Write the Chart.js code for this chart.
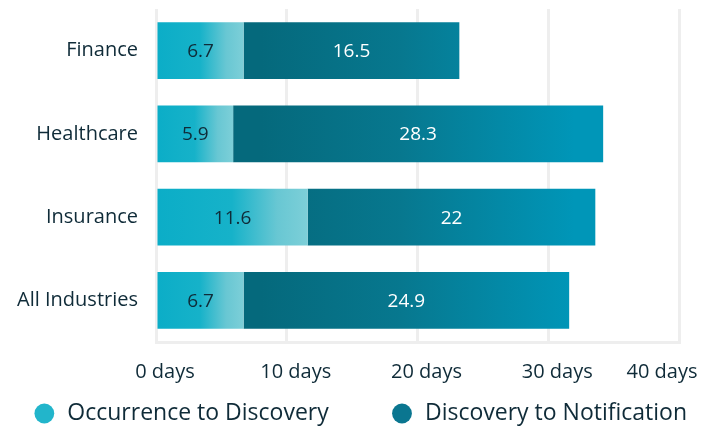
<!DOCTYPE html>
<html>
<head>
<meta charset="utf-8">
<script src="https://cdn.jsdelivr.net/npm/chart.js@4.4.1/dist/chart.umd.min.js"></script>
<style>
    html, body { margin: 0; padding: 0; background: #ffffff; }
    #wrap { width: 701px; height: 426px; position: relative; overflow: hidden; }
</style>
</head>
<body>
<div id="wrap"><canvas id="daysChart"></canvas></div>
<script>
// ---------- DATA ----------
const industries = ["Finance", "Healthcare", "Insurance", "All Industries"];
const occurrenceToDiscovery = [6.7, 5.9, 11.6, 6.7];
const discoveryToNotification = [16.5, 28.3, 22, 24.9];
const dayTicks = [0, 10, 20, 30, 40];
const seriesNames = ["Occurrence to Discovery", "Discovery to Notification"];

const inkColor = "#0f2b38";
const gridColor = "#eeeeee";
const fontFamily = "'Open Sans', 'Noto Sans', sans-serif";

// light teal fade inside each first segment
function firstSegmentFill(ctx) {
    if (ctx.type !== "data") return "#12afc7";
    const chart = ctx.chart;
    if (!chart.chartArea) return "#12afc7";
    const x = chart.scales.x;
    const x0 = x.getPixelForValue(0);
    const x1 = x.getPixelForValue(ctx.raw);
    const g = chart.ctx.createLinearGradient(x0, 0, x1, 0);
    g.addColorStop(0, "#0badc7");
    g.addColorStop(0.5, "#16b2c9");
    g.addColorStop(0.8, "#68c7d3");
    g.addColorStop(1, "#7dcfd8");
    return g;
}

// dark to bright teal across the whole axis
function secondSegmentFill(ctx) {
    const chart = ctx.chart;
    if (!chart.chartArea) return "#0a7d96";
    const x = chart.scales.x;
    const g = chart.ctx.createLinearGradient(x.getPixelForValue(8), 0, x.getPixelForValue(32), 0);
    g.addColorStop(0, "#05697c");
    g.addColorStop(0.45, "#07788f");
    g.addColorStop(1, "#0096b8");
    return g;
}

// ---------- VALUE LABELS ----------
const segmentLabels = {
    id: "segmentLabels",
    afterDatasetsDraw(chart) {
        const c = chart.ctx;
        c.save();
        c.font = "19px " + fontFamily;
        c.textAlign = "center";
        c.textBaseline = "middle";
        chart.data.datasets.forEach((ds, di) => {
            const meta = chart.getDatasetMeta(di);
            c.fillStyle = di === 0 ? inkColor : "#ffffff";
            meta.data.forEach((bar, i) => {
                const cx = (bar.x + bar.base) / 2;
                c.fillText(String(ds.data[i]), cx, bar.y + 1);
            });
        });
        c.restore();
    }
};

const legendColors = ["#22b5cb", "#0a7690"];

new Chart(document.getElementById("daysChart").getContext("2d"), {
    type: "bar",
    data: {
        labels: industries,
        datasets: [
            {
                label: seriesNames[0],
                data: occurrenceToDiscovery,
                backgroundColor: firstSegmentFill,
                borderWidth: 0,
                barPercentage: 0.68,
                categoryPercentage: 1
            },
            {
                label: seriesNames[1],
                data: discoveryToNotification,
                backgroundColor: secondSegmentFill,
                borderWidth: 0,
                barPercentage: 0.68,
                categoryPercentage: 1
            }
        ]
    },
    options: {
        indexAxis: "y",
        responsive: true,
        maintainAspectRatio: false,
        animation: false,
        layout: { padding: { top: 9, right: 0, left: 0, bottom: -9 } },
        plugins: {
            tooltip: { enabled: false },
            legend: {
                position: "bottom",
                align: "end",
                labels: {
                    color: inkColor,
                    font: { family: fontFamily, size: 23 },
                    usePointStyle: true,
                    boxWidth: 26,
                    boxHeight: 14,
                    padding: 2,
                    generateLabels: () => seriesNames.map((name, i) => ({
                        // extra room between and after the entries
                        text: i === 0 ? name + "          " : name + "  ",
                        fillStyle: legendColors[i],
                        strokeStyle: legendColors[i],
                        lineWidth: 0,
                        pointStyle: "circle",
                        fontColor: inkColor,
                        hidden: false,
                        datasetIndex: i
                    }))
                },
                onClick: () => {}
            }
        },
        scales: {
            x: {
                stacked: true,
                min: 0,
                max: 40,
                afterBuildTicks: (scale) => {
                    scale.ticks = dayTicks.map(v => ({ value: v }));
                },
                ticks: {
                    color: inkColor,
                    font: { family: fontFamily, size: 20 },
                    padding: 18,
                    labelOffset: 9,
                    maxRotation: 0,
                    callback: (v) => {
                        const text = v + " days";
                        // pull the last label back inside the canvas
                        return v === dayTicks[dayTicks.length - 1] ? text + "          " : text;
                    }
                },
                grid: { color: gridColor, lineWidth: 3, drawTicks: false },
                border: { display: true, color: gridColor, width: 3 },
                afterFit: (scale) => {
                    scale.paddingLeft = 0;
                    scale.paddingRight = 22;
                    scale.height = 58;
                }
            },
            y: {
                stacked: true,
                ticks: {
                    color: inkColor,
                    font: { family: fontFamily, size: 20 },
                    padding: 18
                },
                grid: { display: false, drawTicks: false },
                border: { display: false },
                afterFit: (scale) => {
                    scale.width = 156;
                    scale.paddingTop = 0;
                    scale.paddingBottom = 0;
                }
            }
        }
    },
    plugins: [segmentLabels]
});
</script>
</body>
</html>
